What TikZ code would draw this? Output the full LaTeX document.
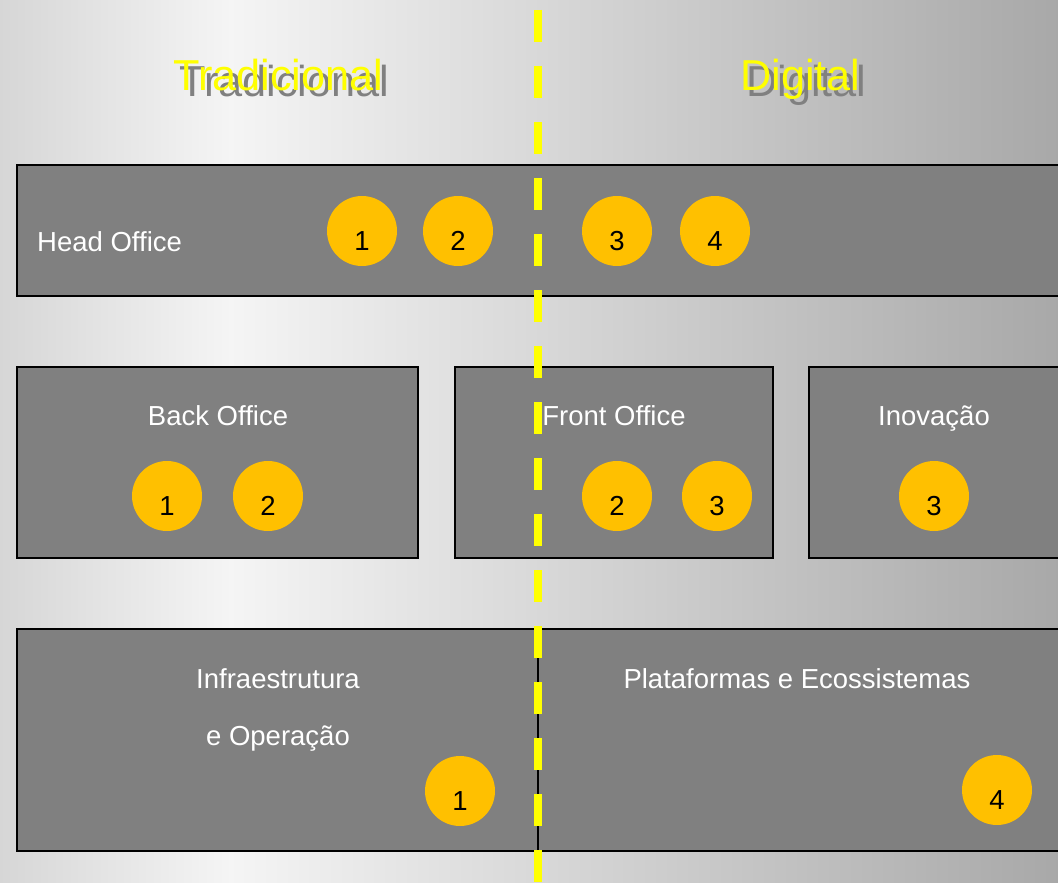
\documentclass[tikz,border=0pt]{standalone}
\usepackage{fontspec}
\setmainfont{Liberation Sans}
\definecolor{dotc}{HTML}{FFC000}
\definecolor{boxc}{HTML}{808080}
\definecolor{dashc}{HTML}{FFFF00}
\definecolor{bgA}{gray}{0.84}
\definecolor{bgB}{gray}{0.96}
\definecolor{bgC}{gray}{0.66}
\definecolor{shadowc}{HTML}{808080}
\begin{document}
\begin{tikzpicture}[x=1pt,y=-1pt,
 panel/.style={draw=black,line width=2.5pt,fill=boxc,anchor=north west,inner sep=0pt,outer sep=0pt},
 dot/.style={circle,fill=dotc,minimum size=70pt,inner sep=0pt},
 num/.style={anchor=base,font=\fontsize{27.5}{32}\selectfont,text=black,inner sep=0pt},
 lbl/.style={anchor=base,font=\fontsize{27.5}{32}\selectfont,text=white,inner sep=0pt},
 title/.style={anchor=base west,font=\fontsize{43.3}{50}\selectfont,inner sep=0pt},
 divider/.style={draw=dashc,line width=8pt,dash pattern=on 32pt off 24pt},
]
\useasboundingbox (0,0) rectangle (1058,883);
\clip (0,0) rectangle (1058,883);
\shade[left color=bgA,right color=bgB] (0,0) rectangle (231,883);
\shade[left color=bgB,right color=bgC] (230,0) rectangle (1058,883);

% titles
\node[title,text=shadowc] (tradS) at (179,96) {Tradicional};
\node[title,text=dashc] (trad) at (173,90) {Tradicional};
\node[title,text=shadowc] (digS) at (746,96) {Digital};
\node[title,text=dashc] (dig) at (740,90) {Digital};

% panels
\node[panel,minimum width=1050pt,minimum height=131pt] (head) at (17,165) {};
\node[panel,minimum width=401pt,minimum height=191pt] (back) at (17,367) {};
\node[panel,minimum width=318pt,minimum height=191pt] (front) at (455,367) {};
\node[panel,minimum width=258pt,minimum height=191pt] (inov) at (809,367) {};
\node[panel,minimum width=521pt,minimum height=222pt] (infra) at (17,629) {};
\node[panel,minimum width=529pt,minimum height=222pt] (plat) at (538,629) {};

% divider
\coordinate (dtop) at (538,10);
\coordinate (dbot) at (538,900);
\draw[divider] (dtop) -- (dbot);

% labels
\node[lbl,anchor=base west] (lhead) at (37,251) {Head Office};
\node[lbl] (lback) at (218,425) {Back Office};
\node[lbl] (lfront) at (614,425) {Front Office};
\node[lbl] (linov) at (934,425) {Inovação};
\node[lbl] (linfra1) at (278,688) {Infraestrutura};
\node[lbl] (linfra2) at (278,745) {e Operação};
\node[lbl] (lplat) at (797,688) {Plataformas e Ecossistemas};

% dots
\foreach \n/\x/\y/\t in {h1/362/231/1,h2/458/231/2,h3/617/231/3,h4/715/231/4,
  b1/167/496/1,b2/268/496/2,f2/617/496/2,f3/717/496/3,i3/934/496/3,
  o1/460/791/1,p4/997/790/4}{
  \node[dot] (\n) at (\x,\y) {};
  \node[num] (\n t) at ([yshift=-19pt]\n.center) {\t};
}
\end{tikzpicture}
\end{document}
